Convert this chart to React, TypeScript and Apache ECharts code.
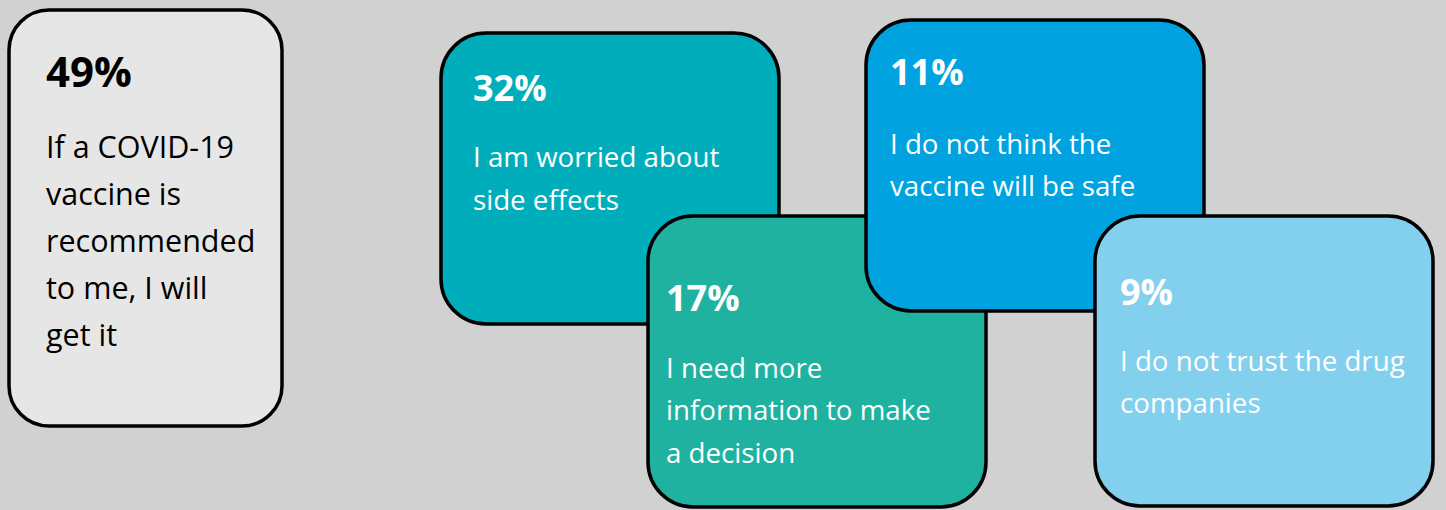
import { useEffect, useRef } from "react";
import * as echarts from "echarts";

// ---- data ----
const percentages = [49, 32, 17, 11, 9];
const statements = [
  ["If a COVID-19", "vaccine is", "recommended", "to me, I will", "get it"],
  ["I am worried about", "side effects"],
  ["I need more", "information to make", "a decision"],
  ["I do not think the", "vaccine will be safe"],
  ["I do not trust the drug", "companies"],
];

// ---- styles / layout ----
const fillColors = ["#e6e6e6", "#00adba", "#20b2a0", "#00a2df", "#83cfee"];
const textColors = ["#000000", "#ffffff", "#ffffff", "#ffffff", "#ffffff"];
const boxLayout = [
  { x: 9, y: 10, w: 273, h: 416, r: 40, tx: 46, py: 70, by: 145.5, lh: 47, pf: 42, bf: 30.5 },
  { x: 441, y: 33, w: 338, h: 291, r: 45, tx: 473, py: 87.5, by: 156, lh: 42.5, pf: 36, bf: 27.7 },
  { x: 648, y: 216, w: 338, h: 291, r: 45, tx: 666, py: 297.5, by: 366.5, lh: 42.5, pf: 36, bf: 27.7 },
  { x: 866, y: 20, w: 338, h: 291, r: 45, tx: 890, py: 71.5, by: 142.5, lh: 42.5, pf: 36, bf: 27.7 },
  { x: 1095, y: 216, w: 338, h: 290, r: 45, tx: 1120, py: 291, by: 359.5, lh: 42.5, pf: 36, bf: 27.7 },
];
const FONT = "'Open Sans', 'Noto Sans', sans-serif";

export default function App() {
  const ref = useRef<HTMLDivElement>(null);
  useEffect(() => {
    if (!ref.current) return;
    const chart = echarts.init(ref.current, undefined, { renderer: "svg" });
    const elements: any[] = [];
    percentages.forEach((p, i) => {
      const L = boxLayout[i];
      elements.push({
        type: "group",
        children: [
          {
            type: "rect",
            shape: { x: L.x, y: L.y, width: L.w, height: L.h, r: L.r },
            style: { fill: fillColors[i], stroke: "#000000", lineWidth: 3.5 },
          },
          {
            type: "text",
            x: L.tx,
            y: L.py,
            style: {
              text: `${p}%`,
              fill: textColors[i],
              font: `bold ${L.pf}px ${FONT}`,
              verticalAlign: "middle",
              align: "left",
            },
          },
          ...statements[i].map((line, j) => ({
            type: "text",
            x: L.tx,
            y: L.by + j * L.lh,
            style: {
              text: line,
              fill: textColors[i],
              font: `normal ${L.bf}px ${FONT}`,
              verticalAlign: "middle",
              align: "left",
            },
          })),
        ],
      });
    });
    chart.setOption({
      animation: false,
      backgroundColor: "#d1d1d1",
      graphic: { elements },
    });
    return () => chart.dispose();
  }, []);
  return (
    <div
      ref={ref}
      style={{ position: "absolute", left: 0, top: 0, width: 1446, height: 510 }}
    />
  );
}
